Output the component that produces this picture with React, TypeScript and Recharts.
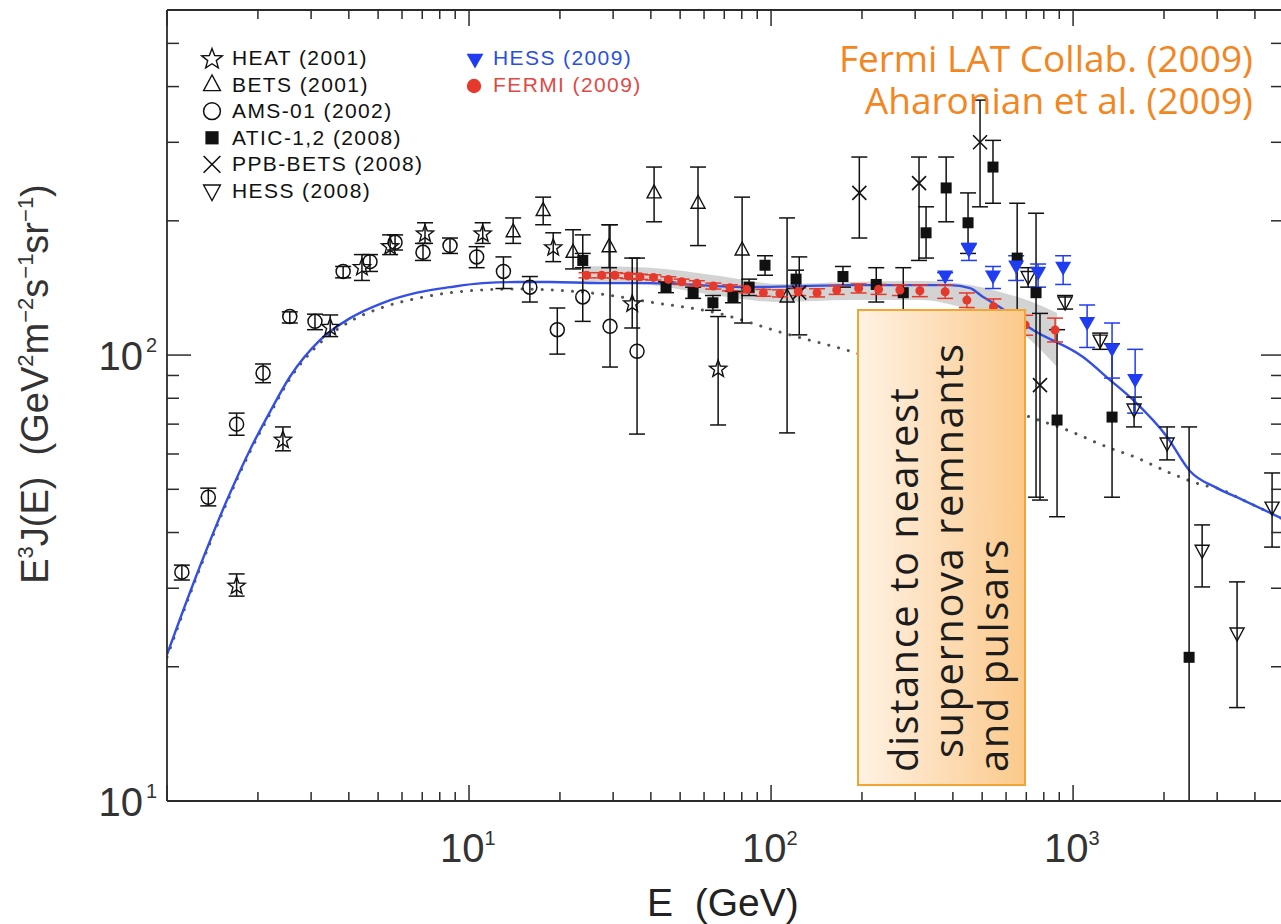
import React from "react";
import { ComposedChart, XAxis, YAxis, Scatter, Line, Area, ErrorBar } from "recharts";

// rows are [E (GeV), E^3 J(E), lower edge, upper edge]
const heat = [
  [1.7, 30.5, 28.8, 32.3],
  [2.42, 64.8, 61.0, 69.0],
  [3.47, 116, 110, 123],
  [4.42, 158, 147, 168],
  [5.48, 176, 168, 186],
  [7.15, 188, 178, 198],
  [11.1, 188, 178, 198],
  [19.0, 175, 162, 188],
  [34.7, 131, 115, 165],
  [66.8, 93.5, 69.7, 122],
];

const bets = [
  [14.0, 189, 178, 203],
  [17.6, 211, 196, 226],
  [22.1, 170, 156, 191],
  [29.1, 175, 157, 196],
  [41.0, 231, 199, 264],
  [57.3, 219, 176, 264],
  [80.2, 172, 118, 226],
  [113, 135, 66.9, 203],
];

const ams = [
  [1.12, 32.6, 31.3, 33.8],
  [1.37, 48.0, 45.9, 50.3],
  [1.7, 70.0, 66.1, 74.1],
  [2.08, 91.1, 86.7, 95.5],
  [2.55, 122, 118, 125],
  [3.09, 119, 114, 123.5],
  [3.83, 154, 149, 158],
  [4.7, 162, 154, 168],
  [5.69, 179, 172, 186],
  [7.04, 170, 163, 178],
  [8.65, 176, 169, 183],
  [10.6, 166, 157, 175],
  [13.0, 154, 141, 166],
  [15.9, 142, 131.5, 150],
  [19.6, 114, 100.5, 127.5],
  [23.8, 135, 119, 186],
  [29.3, 116, 94, 196],
  [36.0, 102, 66.5, 165],
];

const atic = [
  [23.8, 163, 157, 169],
  [44.9, 142, 138, 146],
  [55.2, 138, 134, 142],
  [64.2, 131, 126, 136],
  [74.8, 135, 131, 139],
  [84.6, 142, 136, 148],
  [95.5, 159, 151, 167],
  [121, 148, 141, 155],
  [173, 150, 142, 158],
  [223, 144, 131.5, 157],
  [274, 138, 123, 157],
  [326, 188, 165, 215],
  [380, 237, 199, 278],
  [449, 198, 169, 231],
  [543, 264, 219, 303],
  [653, 165, 80, 219],
  [754, 138, 48.0, 208],
  [885, 71.5, 43.4, 114],
  [1346, 72.6, 48.0, 106],
  [2422, 21.0, 10, 69.0],
];

const ppbBets = [
  [124, 138, 111, 166],
  [196, 231, 183, 278],
  [309, 243, 163, 278],
  [492, 300, 215, 373],
  [777, 85.6, 47.3, 124],
];

const hess2008 = [
  [710, 150, 142, 157],
  [941, 131.5, 126.8, 136],
  [1229, 108, 103, 112],
  [1592, 75.7, 69.0, 80.5],
  [2048, 63.5, 58.2, 69.0],
  [2675, 36.5, 30.2, 41.6],
  [3491, 23.8, 16.2, 31.0],
  [4559, 45.6, 37.1, 54.4],
];

const hess2009 = [
  [377, 150, 147, 153],
  [452, 172, 163, 178],
  [543, 150, 141, 158],
  [648, 158, 147, 167],
  [766, 153, 142, 160],
  [927, 157, 144, 167],
  [1113, 118, 104, 129.5],
  [1346, 103, 88.8, 118],
  [1605, 87.9, 74.1, 103],
];

const fermi = [
  [24.5, 151, 149, 153],
  [27.5, 151, 149, 153],
  [30.4, 151, 149, 153],
  [33.7, 150.4, 148.4, 152.4],
  [36.8, 149.8, 147.8, 151.8],
  [40.8, 149.3, 147.3, 151.3],
  [45.7, 147.8, 145.8, 149.8],
  [50.6, 146.0, 144, 148],
  [56.8, 144.8, 142.8, 146.8],
  [64.4, 142.8, 140.6, 145],
  [73.1, 141.5, 139.3, 143.7],
  [83.1, 140.4, 138, 142.8],
  [94.3, 137.9, 135.5, 140.3],
  [107, 137.5, 135, 140],
  [123, 138.7, 136, 141.4],
  [142, 137.9, 135, 140.8],
  [165, 139.9, 136.8, 143],
  [195, 141.1, 137.8, 144.4],
  [227, 140.4, 136.8, 144],
  [267, 139.9, 136, 143.8],
  [311, 139.4, 135.2, 143.6],
  [377, 138.7, 134, 143.4],
  [445, 132.8, 127.8, 137.8],
  [545, 128.3, 123, 133.6],
  [694, 116.8, 110.8, 122.8],
  [872, 113.8, 107, 121],
];

// Fermi systematic band: [E, low, high]
const fermiBand = [
  [23.8, 145.8, 158.4],
  [39.8, 143.5, 157],
  [67.8, 135.6, 150.4],
  [107, 131.5, 144.3],
  [183, 132.8, 145.8],
  [311, 132.8, 146.6],
  [456, 126.2, 143.5],
  [573, 119.8, 138.5],
  [704, 109.7, 132.8],
  [885, 94.0, 124.2],
];

// model curves: [E, E^3 J(E)]
const modelTotal = [
  [1.0, 21.3], [1.21, 30.2], [1.58, 47.3], [1.88, 61.2], [2.19, 74.5],
  [2.55, 89.3], [3.21, 108], [4.04, 121], [5.19, 131], [6.73, 138], [8.65, 142],
  [11.1, 145], [14.4, 145.8], [18.5, 145.8], [27.1, 145], [39.8, 145], [85.2, 142],
  [183, 143.5], [304, 143.5], [391, 143.5], [456, 141.3], [504, 134.9], [573, 128],
  [737, 113.8], [1079, 99], [1326, 87.9], [1580, 79.3], [2048, 65.5], [2440, 54.9],
  [3000, 50.3], [3655, 47.3], [4883, 43.1],
];

const modelBackground = [
  [1.0, 21.0], [1.21, 29.9], [1.58, 46.8], [1.88, 60.6], [2.19, 73.7], [2.55, 88.4],
  [3.21, 106.4], [4.04, 119], [5.19, 128], [6.73, 134], [8.65, 138], [11.1, 140],
  [14.4, 140.6], [18.5, 140], [27.1, 137.1], [39.8, 131.5], [66.3, 124.2], [110, 112],
  [183, 102], [737, 72.2], [955, 67.9], [1296, 62.2], [1629, 58.8], [2096, 54.4],
  [2695, 51.1], [3000, 50.3], [3655, 47.3], [4883, 43.1],
];

const xTicks = [
  1, 2, 3, 4, 5, 6, 7, 8, 9, 10, 20, 30, 40, 50, 60, 70, 80, 90,
  100, 200, 300, 400, 500, 600, 700, 800, 900, 1000, 2000, 3000, 4000,
];
const yTicks = [10, 20, 30, 40, 50, 60, 70, 80, 90, 100, 200, 300, 400, 500];

const legendLeft = ["HEAT (2001)", "BETS (2001)", "AMS-01 (2002)", "ATIC-1,2 (2008)", "PPB-BETS (2008)", "HESS (2008)"];
const legendRight = ["HESS (2009)", "FERMI (2009)"];
const credits = ["Fermi LAT Collab. (2009)", "Aharonian et al. (2009)"];

const pts = (rows: number[][]) => rows.map(([x, y, lo, hi]) => ({ x, y, err: [y - lo, hi - y] }));
const curve = (rows: number[][]) => rows.map(([x, y]) => ({ x, y }));
const band = fermiBand.map(([x, lo, hi]) => ({ x, range: [lo, hi] }));

const INK = "#111";
const AXIS = "#2b2b2b";
const BLUE = "#1f3cf0";
const RED = "#e5392c";
const LABEL_FONT = "'Liberation Sans', Arial, sans-serif";

const isMajor = (v: number) => Math.abs(Math.log10(v) - Math.round(Math.log10(v))) < 1e-6;

function starPoints(cx: number, cy: number, R: number) {
  const out: string[] = [];
  for (let i = 0; i < 10; i++) {
    const r = i % 2 === 0 ? R : R * 0.42;
    const a = -Math.PI / 2 + (i * Math.PI) / 5;
    out.push(`${cx + r * Math.cos(a)},${cy + r * Math.sin(a)}`);
  }
  return out.join(" ");
}

const Star = ({ cx, cy, s = 1 }: any) => (
  <polygon points={starPoints(cx, cy + s, 9 * s)} fill="none" stroke={INK} strokeWidth={1.4} />
);
const TriUp = ({ cx, cy, s = 1 }: any) => (
  <polygon
    points={`${cx},${cy - 8 * s} ${cx - 7 * s},${cy + 5 * s} ${cx + 7 * s},${cy + 5 * s}`}
    fill="none" stroke={INK} strokeWidth={1.4}
  />
);
const Ring = ({ cx, cy, s = 1 }: any) => (
  <circle cx={cx} cy={cy} r={7 * s} fill="none" stroke={INK} strokeWidth={1.5} />
);
const Block = ({ cx, cy, s = 1 }: any) => (
  <rect x={cx - 5.5 * s} y={cy - 5.5 * s} width={11 * s} height={11 * s} fill={INK} />
);
const Cross = ({ cx, cy, s = 1 }: any) => (
  <path
    d={`M${cx - 7 * s},${cy - 7 * s}L${cx + 7 * s},${cy + 7 * s}M${cx + 7 * s},${cy - 7 * s}L${cx - 7 * s},${cy + 7 * s}`}
    stroke={INK} strokeWidth={1.6}
  />
);
const TriDown = ({ cx, cy, s = 1 }: any) => (
  <polygon
    points={`${cx - 7 * s},${cy - 5 * s} ${cx + 7 * s},${cy - 5 * s} ${cx},${cy + 8 * s}`}
    fill="none" stroke={INK} strokeWidth={1.4}
  />
);
const TriDownBlue = ({ cx, cy, s = 1 }: any) => (
  <polygon
    points={`${cx - 8 * s},${cy - 6 * s} ${cx + 8 * s},${cy - 6 * s} ${cx},${cy + 8 * s}`}
    fill={BLUE}
  />
);
const Dot = ({ cx, cy, s = 1 }: any) => <circle cx={cx} cy={cy} r={4.5 * s} fill={RED} />;

function BottomTick({ x, y, payload }: any) {
  const v = payload.value;
  const major = isMajor(v);
  return (
    <g>
      <line x1={x} y1={y} x2={x} y2={y - (major ? 16 : 9)} stroke={AXIS} strokeWidth={1.5} />
      {major && v > 1 && (
        <text x={x - 29} y={y + 61} fontFamily={LABEL_FONT} fontSize={40} fill="#333">
          10
          <tspan dy={-17} fontSize={20}>{Math.round(Math.log10(v))}</tspan>
        </text>
      )}
    </g>
  );
}

function TopTick({ x, y, payload }: any) {
  const major = isMajor(payload.value);
  return <line x1={x} y1={y} x2={x} y2={y + (major ? 16 : 9)} stroke={AXIS} strokeWidth={1.5} />;
}

function LeftTick({ x, y, payload }: any) {
  const v = payload.value;
  const major = isMajor(v);
  return (
    <g>
      <line x1={x} y1={y} x2={x + (major ? 24 : 12)} y2={y} stroke={AXIS} strokeWidth={1.5} />
      {major && (
        <>
          <text x={x - 24} y={y + 15} textAnchor="end" fontFamily={LABEL_FONT} fontSize={40} fill="#333">
            10
          </text>
          <text x={x - 21} y={y - 3} fontFamily={LABEL_FONT} fontSize={20} fill="#333">
            {Math.round(Math.log10(v))}
          </text>
        </>
      )}
    </g>
  );
}

function RightTick({ x, y, payload }: any) {
  const major = isMajor(payload.value);
  return <line x1={x} y1={y} x2={x - (major ? 22 : 12)} y2={y} stroke={AXIS} strokeWidth={1.5} />;
}

const axisLine = { stroke: AXIS, strokeWidth: 1.8 };
const xCommon = {
  type: "number" as const,
  scale: "log" as const,
  domain: [1, 4955],
  allowDataOverflow: true,
  ticks: xTicks,
  interval: 0,
  height: 1,
  tickSize: 0,
  tickMargin: 0,
  tickLine: false,
  axisLine,
};
const yCommon = {
  type: "number" as const,
  scale: "log" as const,
  domain: [10, 594],
  allowDataOverflow: true,
  ticks: yTicks,
  interval: 0,
  width: 1,
  tickSize: 0,
  tickMargin: 0,
  tickLine: false,
  axisLine,
};

const series = [
  { rows: ams, shape: Ring, color: INK },
  { rows: bets, shape: TriUp, color: INK },
  { rows: heat, shape: Star, color: INK },
  { rows: ppbBets, shape: Cross, color: INK },
  { rows: atic, shape: Block, color: INK },
  { rows: hess2008, shape: TriDown, color: INK },
  { rows: hess2009, shape: TriDownBlue, color: BLUE },
  { rows: fermi, shape: Dot, color: RED },
];

const leftShapes = [Star, TriUp, Ring, Block, Cross, TriDown];

export default function App() {
  return (
    <div style={{ position: "relative", width: 1281, height: 924, overflow: "hidden", background: "#fff" }}>
      <style>{"body{margin:0;overflow:hidden}"}</style>
      <ComposedChart width={1285} height={924} margin={{ top: 9, right: 1, bottom: 122, left: 166 }}>
        <XAxis dataKey="x" {...xCommon} tick={BottomTick} />
        <XAxis xAxisId="top" orientation="top" dataKey="x" {...xCommon} tick={TopTick} />
        <YAxis dataKey="y" {...yCommon} tick={LeftTick} />
        <YAxis yAxisId="right" orientation="right" dataKey="y" {...yCommon} tick={RightTick} />

        <Area
          data={band}
          dataKey="range"
          type="monotone"
          stroke="none"
          fill="#c4c4c4"
          fillOpacity={0.75}
          isAnimationActive={false}
        />
        <Line
          data={curve(modelBackground)}
          dataKey="y"
          type="monotone"
          dot={false}
          stroke="#555"
          strokeWidth={3}
          strokeDasharray="0.1 10"
          strokeLinecap="round"
          isAnimationActive={false}
        />
        <Line
          data={curve(modelTotal)}
          dataKey="y"
          type="monotone"
          dot={false}
          stroke="#3450e2"
          strokeWidth={2.4}
          isAnimationActive={false}
        />
        {series.map((s, i) => (
          <Scatter key={i} data={pts(s.rows)} shape={s.shape} isAnimationActive={false}>
            <ErrorBar dataKey="err" direction="y" width={8} stroke={s.color} strokeWidth={1.5} />
          </Scatter>
        ))}
      </ComposedChart>

      <svg width={1281} height={924} style={{ position: "absolute", left: 0, top: 0, pointerEvents: "none" }}>
        <defs>
          <linearGradient id="boxFill" x1="0" x2="1" y1="0" y2="0">
            <stop offset="0" stopColor="#fff2e4" />
            <stop offset="1" stopColor="#fbc98b" />
          </linearGradient>
        </defs>

        {legendLeft.map((label, i) => {
          const base = 65 + 26.6 * i;
          const Sym = leftShapes[i];
          return (
            <g key={label}>
              <Sym cx={212} cy={base - 7} s={1.2} />
              <text x={232} y={base} fontFamily={LABEL_FONT} fontSize={21} letterSpacing={1.4} fill={INK}>
                {label}
              </text>
            </g>
          );
        })}
        <TriDownBlue cx={475} cy={60} s={1.05} />
        <text x={493} y={65} fontFamily={LABEL_FONT} fontSize={21} letterSpacing={1.4} fill="#2a4fe0">
          {legendRight[0]}
        </text>
        <Dot cx={474} cy={86} s={1.6} />
        <text x={493} y={92} fontFamily={LABEL_FONT} fontSize={21} letterSpacing={1.4} fill="#e04a44">
          {legendRight[1]}
        </text>

        <text fontFamily="'Open Sans', sans-serif" fontSize={37} fill="#f2861f" textAnchor="end">
          <tspan x={1253} y={72}>{credits[0]}</tspan>
          <tspan x={1253} y={114}>{credits[1]}</tspan>
        </text>

        <rect x={858} y={310} width={167} height={475} fill="url(#boxFill)" stroke="#f2a535" strokeWidth={2} />
        <g fontFamily="'Open Sans', sans-serif" fontSize={40} fill="#1c1c1c" letterSpacing={1.5}>
          <text transform="translate(918,772) rotate(-90)">distance to nearest</text>
          <text transform="translate(963,758) rotate(-90)">supernova remnants</text>
          <text transform="translate(1008,772) rotate(-90)">and pulsars</text>
        </g>

        <text
          transform="translate(48,384) rotate(-90)"
          textAnchor="middle"
          fontFamily={LABEL_FONT}
          fontSize={38}
          fill="#333"
          style={{ whiteSpace: "pre" }}
        >
          E<tspan dy={-15} fontSize={22}>3</tspan>
          <tspan dy={15}>J(E)  (GeV</tspan>
          <tspan dy={-15} fontSize={22}>2</tspan>
          <tspan dy={15}>m</tspan>
          <tspan dy={-15} fontSize={22}>−2</tspan>
          <tspan dy={15}>s</tspan>
          <tspan dy={-15} fontSize={22}>−1</tspan>
          <tspan dy={15}>sr</tspan>
          <tspan dy={-15} fontSize={22}>−1</tspan>
          <tspan dy={15}>)</tspan>
        </text>
        <text x={647} y={916} fontFamily={LABEL_FONT} fontSize={39} fill="#222" style={{ whiteSpace: "pre" }}>
          E  (GeV)
        </text>
      </svg>
    </div>
  );
}
